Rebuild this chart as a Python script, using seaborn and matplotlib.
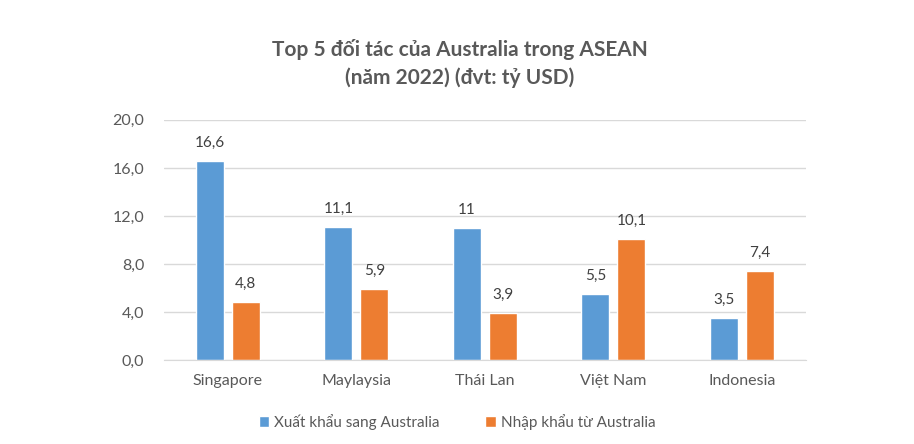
import pandas as pd
import matplotlib
matplotlib.use("Agg")
import matplotlib.pyplot as plt
import seaborn as sns

countries = ["Singapore", "Maylaysia", "Thái Lan", "Việt Nam", "Indonesia"]
xuat_khau = [16.6, 11.1, 11.0, 5.5, 3.5]
nhap_khau = [4.8, 5.9, 3.9, 10.1, 7.4]
xuat_labels = ["16,6", "11,1", "11", "5,5", "3,5"]
nhap_labels = ["4,8", "5,9", "3,9", "10,1", "7,4"]
series = ["Xuất khẩu sang Australia", "Nhập khẩu từ Australia"]
yticks = [0, 4, 8, 12, 16, 20]
ytick_labels = ["0,0", "4,0", "8,0", "12,0", "16,0", "20,0"]

df = pd.DataFrame({
    "country": countries * 2,
    "value": xuat_khau + nhap_khau,
    "series": [series[0]] * 5 + [series[1]] * 5,
})

sns.set_style("white")
plt.rcParams["font.family"] = ["Lato", "DejaVu Sans"]
grey = "#595959"

fig = plt.figure(figsize=(9.14, 4.44), dpi=100)
ax = fig.add_axes([0.179, 0.189, 0.703, 0.541])

sns.barplot(data=df, x="country", y="value", hue="series",
            palette=["#5B9BD5", "#ED7D31"], width=0.56, gap=0.22,
            saturation=1, ax=ax)

for cont, labels in zip(ax.containers, [xuat_labels, nhap_labels]):
    ax.bar_label(cont, labels=labels, padding=8, fontsize=11, color="#404040")

ax.set_ylim(0, 20)
ax.set_yticks(yticks)
ax.set_yticklabels(ytick_labels)
ax.yaxis.grid(True, color="#d9d9d9", linewidth=1)
ax.set_axisbelow(True)
ax.tick_params(axis="both", labelsize=11.5, colors=grey, length=0, pad=14)
ax.tick_params(axis="x", pad=10)
ax.set_xlabel("")
ax.set_ylabel("")
for s in ["top", "right", "left"]:
    ax.spines[s].set_visible(False)
ax.spines["bottom"].set_color("#d9d9d9")

fig.text(0.503, 0.857, "Top 5 đối tác của Australia trong ASEAN\n(năm 2022) (đvt: tỷ USD)",
         ha="center", va="center", fontsize=15, fontweight="bold", color=grey,
         linespacing=1.45)

ax.legend_.remove()
handles, labels = ax.get_legend_handles_labels()
fig.legend(handles, labels, loc="center", bbox_to_anchor=(0.5, 0.05), ncol=2,
           frameon=False, fontsize=11, handlelength=0.7, handleheight=0.7,
           columnspacing=3, handletextpad=0.3, labelcolor=grey)

fig.savefig("out.png", dpi=100)
